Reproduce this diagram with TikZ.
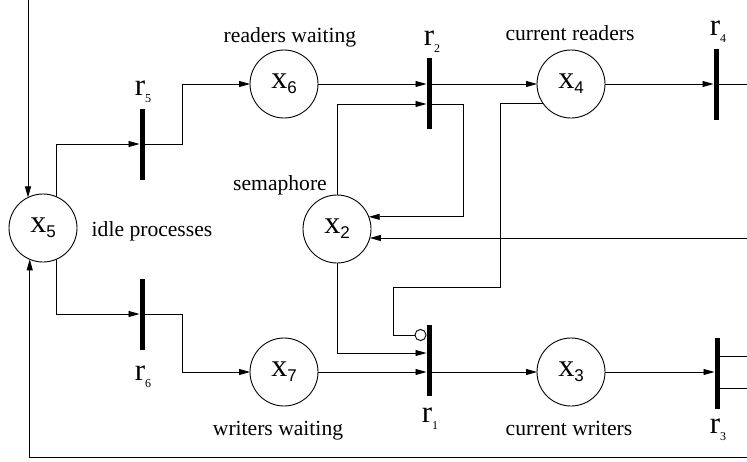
\documentclass[tikz,border=0pt]{standalone}
\usepackage{fontspec}
\setmainfont{Liberation Serif}
\setsansfont{Liberation Sans}
\newfontfamily\tms{Liberation Serif}
\newfontfamily\hlv{Liberation Sans}
\usetikzlibrary{arrows.meta,calc}
% place and transition names
\newcommand{\plc}[1]{{\tms\fontsize{32}{32}\selectfont x}\raisebox{-5pt}{\hlv\fontsize{17}{17}\selectfont #1}}
\newcommand{\trn}[1]{{\tms\fontsize{31}{31}\selectfont r}\raisebox{-7pt}{\tms\fontsize{12}{12}\selectfont #1}}

\begin{document}
\begin{tikzpicture}[x=1pt,y=-1pt,
  place/.style={circle,draw,line width=0.9pt,minimum size=68pt,inner sep=0pt,outer sep=0pt},
  trans/.style={rectangle,fill=black,minimum width=5pt,minimum height=71pt,inner sep=0pt,outer sep=0pt},
  arc/.style={line width=0.9pt,-{Triangle[length=11pt,width=6pt]}},
  inh/.style={line width=0.9pt,-{Circle[open,length=12pt,line width=0.9pt]}},
  wire/.style={line width=0.9pt},
  note/.style={font=\tms\fontsize{21.6}{22}\selectfont,anchor=base,inner sep=0pt},
  tlab/.style={inner sep=0pt}
]
\useasboundingbox (0,0) rectangle (747,461);

% places
\node[place] (x5) at (43,228) {\plc{5}};
\node[place] (x6) at (284,84) {\plc{6}};
\node[place] (x4) at (571,84) {\plc{4}};
\node[place] (x2) at (337,229) {\plc{2}};
\node[place] (x7) at (284,372) {\plc{7}};
\node[place] (x3) at (571,372) {\plc{3}};

% transitions
\node[trans] (r5) at (142,144) {};
\node[trans] (r6) at (142,314) {};
\node[trans] (r2) at (429,93) {};
\node[trans] (r4) at (716,84) {};
\node[trans] (r1) at (429,360) {};
\node[trans] (r3) at (717,373) {};

% transition names
\node[tlab,anchor=south] at ([yshift=6pt,xshift=1pt]r5.north) {\trn{5}};
\node[tlab,anchor=south] at ([yshift=5pt,xshift=3pt]r2.north) {\trn{2}};
\node[tlab,anchor=south] at ([yshift=6pt,xshift=2pt]r4.north) {\trn{4}};
\node[tlab,anchor=north] at ([yshift=-16pt,xshift=1pt]r6.south) {\trn{6}};
\node[tlab,anchor=north] at ([yshift=-12pt,xshift=1pt]r1.south) {\trn{1}};
\node[tlab,anchor=north] at ([yshift=-10pt,xshift=1pt]r3.south) {\trn{3}};

% place descriptions
\node[note] at (290,42) {readers waiting};
\node[note] at (570,40) {current readers};
\node[note] at (280,190) {semaphore};
\node[note] at (152,236) {idle processes};
\node[note] at (278,435) {writers waiting};
\node[note] at (569,435) {current writers};

% open ends at the border
\coordinate (topin) at (28,0);
\coordinate (botin) at (747,457);
\coordinate (semin) at (747,238);
\coordinate (r4out) at (747,84);
\coordinate (r3outa) at (747,356);
\coordinate (r3outb) at (747,388);
\coordinate (k1) at (500,287);
\coordinate (k2) at (393,335);

% arcs
\draw[arc] (topin) -- (topin |- x5.116);
\draw[arc] (botin) -| (x5.247.5);
\draw[arc] (x5.67) |- (r5.west);
\draw[arc] (r5.east) -- ++(37.5,0) |- (x6.west);
\draw[arc] (x5.-67) |- (r6.west);
\draw[arc] (r6.east) -- ++(37.5,0) |- (x7.west);
\draw[arc] (x6.east) -- (x6.east -| r2.west);
\draw[arc] (x2.north) |- ([yshift=-11pt]r2.west);
\draw[arc] (r2.east |- x4.west) -- (x4.west);
\draw[arc] ([yshift=-11pt]r2.east) -- ++(31.5,0) |- (x2.21);
\draw[arc] (semin) -- (semin -| x2.-15);
\draw[arc] (x4.east) -- (x4.east -| r4.west);
\draw[wire] (r4.east |- r4out) -- (r4out);
\draw[inh] (x4.214) -| (k1) -| (k2) -- ([yshift=25pt]r1.west);
\draw[arc] (x2.south) |- ([yshift=7pt]r1.west);
\draw[arc] (x7.east) -- (x7.east -| r1.west);
\draw[arc] (r1.east |- x3.west) -- (x3.west);
\draw[arc] (x3.east) -- (x3.east -| r3.west);
\draw[wire] (r3.east |- r3outa) -- (r3outa);
\draw[wire] (r3.east |- r3outb) -- (r3outb);
\end{tikzpicture}
\end{document}
